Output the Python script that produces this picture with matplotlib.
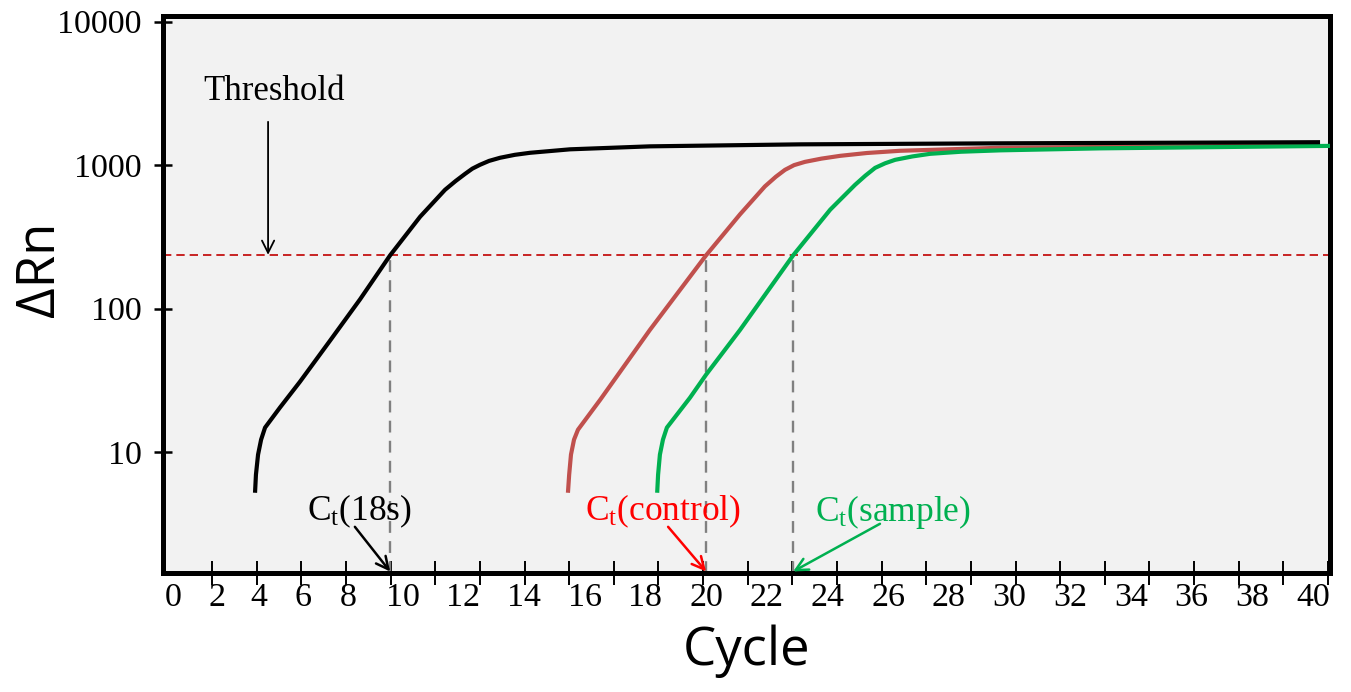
import numpy as np
import matplotlib
matplotlib.use("Agg")
import matplotlib.pyplot as plt

# ---------------- data ----------------
black_cycle = [5.14, 5.17, 5.24, 5.34, 5.47, 5.96, 6.62, 7.61, 8.60, 9.59, 10.58, 11.40,
               11.75, 12.06, 12.30, 12.55, 12.85, 13.21, 13.70, 14.20, 15.52, 18.15,
               23.10, 29.69, 40.23]
black_drn = [5.2, 6.95, 9.6, 12.2, 14.8, 20.4, 30.9, 59.7, 116, 235, 437, 673,
             775, 869, 945, 1005, 1070, 1125, 1180, 1219, 1289, 1352,
             1396, 1419, 1445]

red_cycle = [15.45, 15.49, 15.55, 15.65, 15.78, 16.51, 18.15, 20.00, 21.12, 21.94,
             22.30, 22.60, 22.90, 23.26, 23.80, 24.42, 25.30, 26.39, 29.69, 40.23]
red_drn = [5.2, 6.95, 9.6, 12.2, 14.3, 23.1, 71, 235, 454, 711,
           830, 927, 1000, 1054, 1110, 1161, 1215, 1259, 1321, 1374]

green_cycle = [18.39, 18.42, 18.48, 18.58, 18.71, 19.47, 20.00, 21.12, 22.87, 24.09,
               24.91, 25.25, 25.57, 25.90, 26.23, 26.80, 27.38, 28.40, 29.69, 32.98, 40.56]
green_drn = [5.2, 6.95, 9.6, 12.2, 14.8, 23.9, 34.6, 71, 235, 489,
             729, 845, 957, 1030, 1089, 1150, 1199, 1240, 1268, 1309, 1362]

threshold = 237
ct_values = [9.59, 20.0, 22.87]
ct_labels = [r"C$_{\mathrm{t}}$(18s)", r"C$_{\mathrm{t}}$(control)", r"C$_{\mathrm{t}}$(sample)"]

x_tick_labels = ["0", "2", "4", "6", "8", "10", "12", "14", "16", "18", "20",
                 "22", "24", "26", "28", "30", "32", "34", "36", "38", "40"]
y_tick_labels = ["10", "100", "1000", "10000"]
y_tick_values = [10, 100, 1000, 10000]

# ---------------- layout / style ----------------
x_label_pos = [2.44, 3.89, 5.27, 6.72, 8.20] + list(np.arange(10, 41, 2))
x_mark_pos = 3.723 + 1.4708 * np.arange(26)
xlim = (2.11, 40.56)
ylim = (1.435, 10958)

plt.rcParams["mathtext.fontset"] = "custom"
plt.rcParams["mathtext.rm"] = "Liberation Serif"
plt.rcParams["mathtext.it"] = "Liberation Serif:italic"
serif = "Liberation Serif"
sans = ["Open Sans", "DejaVu Sans"]

fig = plt.figure(figsize=(13.51, 6.92), dpi=100)
ax = fig.add_axes([0.1207, 0.172, 0.9845 - 0.1207, 0.9769 - 0.172])
ax.set_facecolor("#f2f2f2")
ax.set_yscale("log")
ax.set_xlim(*xlim)
ax.set_ylim(*ylim)

for s in ax.spines.values():
    s.set_linewidth(3.6)
    s.set_color("black")

# curves
ax.plot(red_cycle, red_drn, color="#C0504D", lw=3.0, solid_capstyle="butt",
        solid_joinstyle="round", zorder=3)
ax.plot(green_cycle, green_drn, color="#00B050", lw=3.0, solid_capstyle="butt",
        solid_joinstyle="round", zorder=4)
ax.plot(black_cycle, black_drn, color="black", lw=3.0, solid_capstyle="butt",
        solid_joinstyle="round", zorder=5)

# threshold
ax.axhline(threshold, color="#C00000", lw=1.2, dashes=(5, 3), zorder=2)

# Ct dashed verticals
for ct in ct_values:
    ax.plot([ct, ct], [ylim[0], threshold], color="#808080", lw=1.7, dashes=(5, 3.5), zorder=2)

# ticks
ax.set_xticks(x_label_pos)
ax.set_xticklabels(x_tick_labels, fontfamily=serif, fontsize=24.5)
ax.set_xticks(x_mark_pos, minor=True)
ax.tick_params(axis="x", which="major", length=0, pad=7)
ax.tick_params(axis="x", which="minor", direction="inout", length=17, width=1.4, color="black")

ax.set_yticks(y_tick_values)
ax.set_yticklabels(y_tick_labels, fontfamily=serif, fontsize=24.5)
ax.yaxis.set_minor_locator(matplotlib.ticker.NullLocator())
ax.tick_params(axis="y", which="major", direction="inout", length=13, width=1.8, pad=9)

# axis labels
ax.set_xlabel("Cycle", fontfamily=sans, fontsize=38, labelpad=8)
ax.set_ylabel("\u0394Rn", fontfamily=sans, fontsize=38, va="center")
ax.yaxis.set_label_coords(-0.105, 0.545)

# Threshold annotation
ax.text(5.77, 3245, "Threshold", fontfamily=serif, fontsize=25, ha="center", va="center")
ax.annotate("", xy=(5.57, threshold), xytext=(5.57, 2004),
            arrowprops=dict(arrowstyle="->", color="black", lw=1.3, mutation_scale=22,
                            shrinkA=0, shrinkB=0))

# Ct annotations
ct_text_pos = [(8.57, 3.84), (18.58, 3.84), (26.16, 3.84)]
ct_arrow_start = [(8.43, 3.01), (18.75, 3.01), (25.73, 3.16)]
ct_colors = ["black", "#FF0000", "#00B050"]
for lab, ct, tp, ap, col in zip(ct_labels, ct_values, ct_text_pos, ct_arrow_start, ct_colors):
    ax.text(tp[0], tp[1], lab, color=col, fontfamily=serif, fontsize=25.5, ha="center", va="center")
    ax.annotate("", xy=(ct, 1.47), xytext=ap,
                arrowprops=dict(arrowstyle="->", color=col, lw=1.8, mutation_scale=22,
                                shrinkA=0, shrinkB=0))

fig.savefig("out.png", dpi=100, facecolor="white")
